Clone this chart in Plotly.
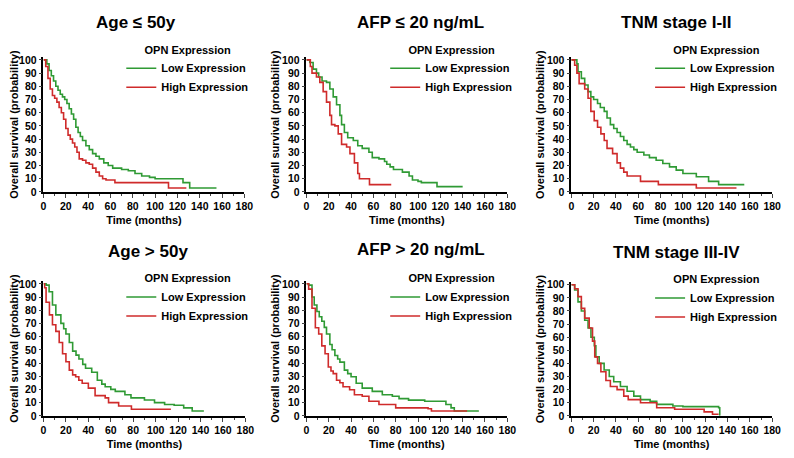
import plotly.graph_objects as go

# ---- data: Kaplan-Meier step points (time in months, survival in %) ----
titles = ["Age ≤ 50y", "AFP ≤ 20 ng/mL", "TNM stage I-II",
          "Age > 50y", "AFP > 20 ng/mL", "TNM stage III-IV"]
group_names = ["Low Expression", "High Expression"]

age_le50_low_t = [0, 3, 5, 7, 9, 11, 13, 15, 17, 19, 21, 23, 25, 27, 29, 31, 33, 35, 38, 41, 44, 47, 50,
                  54, 58, 62, 70, 76, 82, 88, 95, 100, 125, 131, 155]
age_le50_low_s = [100, 97, 92, 88, 84, 80, 77, 74, 72, 70, 67, 63, 59, 55, 49, 45, 42, 39, 35, 32, 29, 27, 25,
                  22, 20, 18, 17, 16, 14, 12, 11, 10, 7, 3, 3]
age_le50_high_t = [0, 2, 4, 6, 8, 10, 12, 14, 16, 18, 20, 22, 24, 26, 28, 30, 32, 35, 38, 41, 44, 47, 50,
                   53, 56, 64, 112, 128]
age_le50_high_s = [100, 95, 86, 78, 73, 71, 68, 64, 60, 55, 48, 43, 40, 37, 34, 30, 25, 24, 22, 21, 18, 15, 12,
                   10, 9, 7, 3, 3]

afp_le20_low_t = [0, 3, 6, 9, 11, 14, 18, 21, 24, 27, 30, 31.5, 34, 37, 42, 46, 50, 56, 59, 65, 70, 72, 75,
                  78, 86, 92, 95, 100, 103, 117, 140]
afp_le20_low_s = [100, 98, 93, 90, 87, 84, 83, 78, 72, 66, 58, 51, 45, 41, 39, 35, 33, 30, 26, 25, 23, 21, 19,
                  17, 15, 12, 9, 8, 7, 4, 4]
afp_le20_high_t = [0, 3.5, 5, 9, 12, 15, 18, 21, 22.5, 25.5, 28.5, 31.5, 36, 39, 43, 46, 47.5, 56.5, 76]
afp_le20_high_s = [100, 95, 90, 87, 83, 76, 68, 58, 51, 50, 44, 36, 34, 29, 22, 14, 10, 5.5, 5.5]

tnm12_low_t = [0, 5, 6, 9, 12, 15, 17.5, 20, 23.5, 26, 29.5, 32, 35, 38, 41, 44, 47, 50, 53, 56, 59, 65, 70,
               76, 82, 88, 94, 100, 112, 123, 132, 155]
tnm12_low_s = [100, 97, 91, 86, 81, 76, 72, 70, 67, 64, 61, 56, 51, 48, 45, 42, 39, 36, 34, 32, 30, 28, 26,
               24, 21.5, 19, 16.5, 14, 11.5, 8, 5.5, 5.5]
tnm12_high_t = [0, 3, 5, 7, 12, 15, 17.5, 20.5, 23.5, 26.5, 29.5, 32, 37, 41, 44, 47, 50, 62, 78, 112, 148]
tnm12_high_s = [100, 96, 90, 82, 78, 71, 61, 54, 49, 44, 39, 33, 29, 22, 18, 15, 12, 8, 5.5, 3, 3]

age_gt50_low_t = [0, 2.3, 5, 8, 11, 15.5, 18, 20, 23, 26, 29, 31.6, 35, 37.5, 43, 48, 52, 55, 60, 64, 72.6,
                  78, 90, 99, 108, 116.5, 125, 132.6, 143]
age_gt50_low_s = [100, 99, 94, 84, 76.5, 70, 66, 62, 55.5, 49, 46, 43, 39, 36, 33, 27, 24, 22, 20, 18.5, 16,
                  13.6, 12, 10, 8.6, 8, 6, 3.7, 3.7]
age_gt50_high_t = [0, 1, 2.3, 5.3, 8, 11, 14, 17, 20, 23, 26, 28.7, 31.5, 34.5, 40, 46, 55, 58, 67, 78.4, 113.6]
age_gt50_high_s = [100, 97, 86, 76.5, 69, 64, 55.5, 47, 41, 34.6, 31, 29.6, 27, 24.7, 21, 15.3, 13.6, 10, 7.4,
                   5, 5]

afp_gt20_low_t = [0, 2, 5, 7, 9.4, 11.5, 13.8, 16, 18, 21, 23, 25.5, 28, 30, 34, 37, 40, 44.6, 50, 59, 68,
                  77, 83, 91.5, 106, 125, 129.6, 132.5, 154.5]
afp_gt20_low_s = [100, 99, 90, 84, 79, 75, 71.6, 67, 62, 54, 50, 45.7, 43, 40.7, 34.6, 32, 29.6, 24.7, 21,
                  18.5, 16, 14.8, 13, 11.9, 11, 8.6, 6, 3.7, 3.7]
afp_gt20_high_t = [0, 2, 5, 8, 11, 13.8, 16.7, 19.6, 22, 24, 27, 30, 32.8, 38.7, 43, 50, 56, 65, 80, 109, 112,
                   144]
afp_gt20_high_s = [100, 96, 81.5, 66.7, 62, 53, 47, 37, 34, 32, 27, 25, 22, 19.8, 16, 14.8, 11, 8.6, 6, 5.4,
                   3.7, 3.7]

tnm34_low_t = [0, 3, 6, 9, 12, 15, 17.6, 20.6, 22, 25, 29.4, 34, 38, 44, 50, 56, 62, 70.6, 76.5, 91, 100, 132,
               133]
tnm34_low_s = [100, 96, 87, 80, 73, 67, 60, 53.5, 45, 40, 35, 30, 26, 22.4, 18.7, 15, 12.4, 11, 8.7, 7.5, 7,
               6.2, 0]
tnm34_high_t = [0, 3, 6, 9, 12, 16, 19, 21, 23.5, 26.5, 31, 35, 41, 47, 51, 62, 76.5, 92.6, 119, 126.5, 132]
tnm34_high_s = [100, 97, 91, 82, 74.6, 67, 57, 45, 40, 33.6, 27, 22.4, 20, 15, 12.4, 10, 6.2, 5, 3, 1.2, 1.2]

panels = [
    ((age_le50_low_t, age_le50_low_s), (age_le50_high_t, age_le50_high_s)),
    ((afp_le20_low_t, afp_le20_low_s), (afp_le20_high_t, afp_le20_high_s)),
    ((tnm12_low_t, tnm12_low_s), (tnm12_high_t, tnm12_high_s)),
    ((age_gt50_low_t, age_gt50_low_s), (age_gt50_high_t, age_gt50_high_s)),
    ((afp_gt20_low_t, afp_gt20_low_s), (afp_gt20_high_t, afp_gt20_high_s)),
    ((tnm34_low_t, tnm34_low_s), (tnm34_high_t, tnm34_high_s)),
]

x_ticks = [0, 20, 40, 60, 80, 100, 120, 140, 160, 180]
y_ticks = [0, 10, 20, 30, 40, 50, 60, 70, 80, 90, 100]

# ---- layout geometry (page pixels; the page body has an 8px margin) ----
OFF = 8
W, H = 794 - OFF, 458 - OFF
colors = ["#2f9a34", "#cf2b2b"]
FONT = "Liberation Sans, Arial, sans-serif"

# (x at t=0, x at t=180, y at 100 %, y at 0 %)
boxes = [
    (41, 245, 57, 192), (308, 512, 57, 192), (577, 781, 57, 192),
    (41, 246, 286, 421), (308, 512, 286, 421), (577, 781, 287, 421),
]
# title centre x and top y (page pixels)
title_pos = [(135, 8), (424, 8), (684, 8), (147, 242), (424, 240), (684, 243)]
legend_pos = [(120, 36), (388, 36), (657, 36), (120, 270), (388, 270), (657, 271)]


def px(v):
    return (v - OFF) / W


def py(v):
    return 1 - (v - OFF) / H


fig = go.Figure()

for i, (curves, box) in enumerate(zip(panels, boxes)):
    n = "" if i == 0 else str(i + 1)
    leg = "legend" + n
    x0, x1, y100, y0 = box
    ymax = 102
    ytop = y0 - (y0 - y100) * ymax / 100
    for (t, s), name, c in zip(curves, group_names, colors):
        fig.add_trace(go.Scatter(
            x=t, y=s, mode="lines", name=name,
            line=dict(color=c, width=1.6, shape="hv"),
            xaxis="x" + n, yaxis="y" + n, legend=leg,
        ))
    fig.layout["xaxis" + n] = dict(
        domain=[px(x0), px(x1)], anchor="y" + n, range=[0, 180],
        tickvals=x_ticks, ticks="outside", ticklen=4, tickwidth=1.3,
        minor=dict(dtick=10, ticks="outside", ticklen=2, tickwidth=1),
        showline=True, linecolor="black", linewidth=1.5, showgrid=False, zeroline=False,
        tickfont=dict(size=10.5, family=FONT, color="black", weight="bold"),
        title=dict(text="<b>Time (months)</b>", standoff=5,
                   font=dict(size=11, family=FONT, color="black")),
    )
    fig.layout["yaxis" + n] = dict(
        domain=[py(y0), py(ytop)], anchor="x" + n, range=[0, ymax],
        tickvals=y_ticks, ticks="outside", ticklen=3, tickwidth=1.3,
        showline=True, linecolor="black", linewidth=1.5, showgrid=False, zeroline=False,
        tickfont=dict(size=10.5, family=FONT, color="black", weight="bold"),
        title=dict(text="<b>Overall survival (probability)</b>", standoff=0,
                   font=dict(size=11, family=FONT, color="black")),
    )
    lx, ly = legend_pos[i]
    fig.layout[leg] = dict(
        x=px(lx), y=py(ly), xanchor="left", yanchor="top",
        bgcolor="rgba(0,0,0,0)", borderwidth=0, tracegroupgap=0,
        title=dict(text="<b>OPN Expression</b>", side="top center",
                   font=dict(size=11, family=FONT, color="black")),
        font=dict(size=11, family=FONT, color="black", weight="bold"),
    )
    tx, ty = title_pos[i]
    fig.add_annotation(
        x=px(tx), y=py(ty), xref="paper", yref="paper", showarrow=False,
        text="<b>%s</b>" % titles[i], xanchor="center", yanchor="top", borderpad=0,
        font=dict(size=17, family=FONT, color="black"),
    )

fig.update_layout(
    width=W, height=H, margin=dict(l=0, r=0, t=0, b=0),
    paper_bgcolor="white", plot_bgcolor="white", showlegend=True,
)

fig.write_html("out.html")
